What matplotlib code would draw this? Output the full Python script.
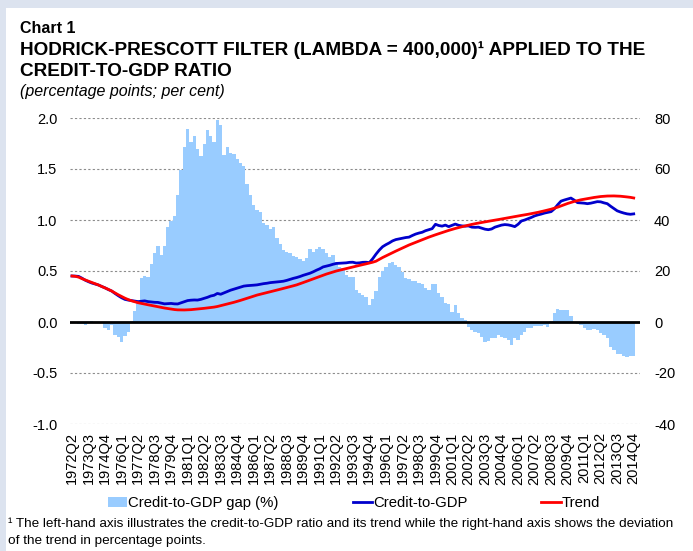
import matplotlib.pyplot as plt
from matplotlib.patches import Rectangle, Patch
from matplotlib.lines import Line2D

plt.rcParams['font.family'] = ['Liberation Sans', 'DejaVu Sans']

# quarters 1972Q2 .. 2014Q4
quarters = []
for yr in range(1972, 2015):
    for q in range(1, 5):
        if yr == 1972 and q < 2:
            continue
        quarters.append("%dQ%d" % (yr, q))

# credit-to-GDP gap, percentage points (right axis)
gap = [
    -0.5, -0.5, -0.7, -0.8, -1.0, -0.5, 0.5, -0.3, 0.0, -0.5,
    -2.5, -3.0, -1.0, -5.0, -6.0, -7.7, -5.5, -4.0, 0.5, 4.5,
    8.0, 17.4, 18.2, 17.5, 22.7, 27.2, 29.8, 26.3, 29.8, 37.4,
    39.6, 41.6, 50.0, 59.6, 68.5, 75.6, 70.5, 73.0, 67.7, 65.0,
    70.0, 75.3, 73.0, 70.7, 79.2, 77.3, 65.5, 68.5, 66.1, 65.7,
    63.8, 62.2, 61.2, 54.1, 49.8, 45.9, 43.9, 43.3, 38.9, 38.0,
    36.3, 37.3, 32.8, 30.5, 28.2, 27.6, 27.0, 25.9, 25.3, 24.6,
    24.1, 25.0, 28.5, 27.6, 28.5, 29.5, 28.5, 27.0, 25.6, 26.3,
    23.7, 21.7, 21.0, 18.4, 17.8, 17.5, 12.5, 11.5, 10.6, 10.0,
    6.5, 9.0, 12.0, 17.5, 20.0, 21.5, 23.0, 23.5, 22.5, 21.5,
    19.7, 17.1, 16.7, 16.2, 16.0, 15.4, 15.0, 13.2, 12.5, 15.0,
    15.0, 11.3, 9.8, 7.3, 7.0, 4.0, 6.5, 3.4, 1.4, 0.8,
    -1.8, -3.1, -3.8, -4.4, -5.7, -7.7, -7.5, -6.4, -6.4, -5.1,
    -6.0, -6.4, -7.0, -9.0, -6.4, -7.0, -5.1, -3.8, -2.5, -2.3,
    -1.6, -1.6, -1.6, -1.2, -2.1, 0.5, 3.4, 5.0, 4.7, 4.6,
    4.6, 2.4, 0.1, -0.8, -1.2, -2.5, -3.1, -3.1, -2.9, -3.1,
    -4.2, -5.1, -6.4, -9.7, -11.0, -12.4, -12.7, -13.3, -13.6, -13.3,
    -13.3,
]

# credit-to-GDP ratio (left axis)
credit = [
    0.451, 0.450, 0.447, 0.430, 0.410, 0.395, 0.382, 0.372, 0.363, 0.348,
    0.335, 0.318, 0.304, 0.280, 0.258, 0.238, 0.222, 0.215, 0.210, 0.205,
    0.200, 0.204, 0.207, 0.200, 0.196, 0.193, 0.192, 0.185, 0.178, 0.180,
    0.182, 0.178, 0.177, 0.188, 0.200, 0.210, 0.214, 0.216, 0.215, 0.222,
    0.232, 0.242, 0.255, 0.262, 0.280, 0.272, 0.285, 0.298, 0.312, 0.322,
    0.332, 0.342, 0.352, 0.356, 0.358, 0.361, 0.364, 0.370, 0.376, 0.380,
    0.386, 0.389, 0.393, 0.396, 0.400, 0.408, 0.418, 0.428, 0.436, 0.446,
    0.458, 0.468, 0.478, 0.492, 0.508, 0.522, 0.540, 0.548, 0.556, 0.566,
    0.574, 0.576, 0.578, 0.580, 0.585, 0.586, 0.578, 0.580, 0.585, 0.586,
    0.582, 0.620, 0.665, 0.705, 0.738, 0.758, 0.775, 0.795, 0.808, 0.815,
    0.822, 0.828, 0.832, 0.848, 0.862, 0.872, 0.880, 0.895, 0.905, 0.915,
    0.958, 0.946, 0.940, 0.950, 0.935, 0.948, 0.960, 0.948, 0.942, 0.940,
    0.942, 0.930, 0.928, 0.930, 0.920, 0.910, 0.905, 0.912, 0.930, 0.940,
    0.950, 0.955, 0.952, 0.945, 0.935, 0.958, 0.990, 1.000, 1.012, 1.025,
    1.040, 1.050, 1.058, 1.068, 1.075, 1.082, 1.110, 1.150, 1.185, 1.196,
    1.205, 1.215, 1.195, 1.170, 1.168, 1.165, 1.160, 1.165, 1.172, 1.180,
    1.178, 1.168, 1.160, 1.135, 1.112, 1.090, 1.078, 1.068, 1.060, 1.056,
    1.060,
]

# HP trend (left axis)
trend = [
    0.451, 0.448, 0.440, 0.425, 0.412, 0.400, 0.388, 0.376, 0.363, 0.348,
    0.334, 0.320, 0.304, 0.285, 0.267, 0.250, 0.234, 0.220, 0.208, 0.198,
    0.189, 0.182, 0.175, 0.169, 0.163, 0.156, 0.150, 0.143, 0.137, 0.132,
    0.127, 0.122, 0.119, 0.118, 0.118, 0.119, 0.121, 0.124, 0.127, 0.130,
    0.134, 0.138, 0.142, 0.146, 0.152, 0.160, 0.168, 0.176, 0.184, 0.193,
    0.202, 0.212, 0.222, 0.233, 0.243, 0.254, 0.264, 0.272, 0.281, 0.289,
    0.297, 0.305, 0.313, 0.321, 0.330, 0.338, 0.346, 0.355, 0.364, 0.375,
    0.387, 0.399, 0.411, 0.423, 0.436, 0.448, 0.460, 0.470, 0.480, 0.490,
    0.500, 0.508, 0.516, 0.524, 0.532, 0.540, 0.548, 0.555, 0.562, 0.570,
    0.578, 0.586, 0.596, 0.614, 0.632, 0.648, 0.664, 0.680, 0.695, 0.710,
    0.725, 0.740, 0.755, 0.768, 0.782, 0.795, 0.808, 0.820, 0.832, 0.844,
    0.855, 0.866, 0.877, 0.888, 0.898, 0.908, 0.917, 0.926, 0.934, 0.942,
    0.950, 0.957, 0.964, 0.970, 0.976, 0.982, 0.988, 0.993, 0.998, 1.004,
    1.010, 1.016, 1.022, 1.028, 1.033, 1.039, 1.045, 1.050, 1.056, 1.062,
    1.068, 1.075, 1.082, 1.090, 1.098, 1.106, 1.116, 1.126, 1.138, 1.150,
    1.162, 1.172, 1.182, 1.190, 1.198, 1.204, 1.210, 1.216, 1.221, 1.226,
    1.230, 1.233, 1.235, 1.236, 1.236, 1.235, 1.233, 1.230, 1.226, 1.222,
    1.216,
]

left_ticks = [-1.0, -0.5, 0.0, 0.5, 1.0, 1.5, 2.0]
right_ticks = [-40, -20, 0, 20, 40, 60, 80]

W, H = 693, 551
fig = plt.figure(figsize=(W / 100, H / 100), dpi=100)
fig.patch.set_facecolor('#dce3ef')
fig.patches.append(Rectangle((6 / W, 0), 1, 1 - 8 / H, transform=fig.transFigure,
                             facecolor='white', edgecolor='none', zorder=-5))

fig.text(20 / W, 1 - 33 / H, "Chart 1", fontsize=11.5, fontweight='bold')
fig.text(20 / W, 1 - 55 / H, "HODRICK-PRESCOTT FILTER (LAMBDA = 400,000)\u00b9 APPLIED TO THE",
         fontsize=13.7, fontweight='bold')
fig.text(20 / W, 1 - 76 / H, "CREDIT-TO-GDP RATIO", fontsize=13.7, fontweight='bold')
fig.text(20 / W, 1 - 96 / H, "(percentage points; per cent)", fontsize=11.5, style='italic')

x = list(range(len(quarters)))

# bars on primary axes (right-hand scale), lines on the twin (left-hand scale)
ax = fig.add_axes([70 / W, 1 - 424 / H, 570 / W, 306 / H])
ax2 = ax.twinx()
ax.set_zorder(2)
ax.patch.set_visible(False)
ax2.set_zorder(3)
ax2.patch.set_visible(False)

ax.bar(x, gap, width=1.0, color='#99ccff', edgecolor='none', zorder=2)
ax.set_ylim(-40, 80)
ax.set_yticks(right_ticks)
ax.yaxis.tick_right()
ax.set_yticklabels([str(t) for t in right_ticks])
ax.grid(axis='y', color='#8c8c8c', linestyle=(0, (2, 2)), linewidth=0.8, zorder=1)
ax.axhline(0, color='black', linewidth=2.0, zorder=3)
ax.set_xlim(-0.6, 171.9)
ax.set_xticks(x[::5])
ax.set_xticklabels(quarters[::5], rotation=90, fontsize=10.5)
ax.tick_params(axis='both', length=0, labelsize=10.5)
ax.tick_params(axis='y', pad=10)
ax.tick_params(axis='x', pad=6)
for s in ax.spines.values():
    s.set_visible(False)

ax2.plot(x, credit, color='#0000cc', linewidth=2.0, zorder=3)
ax2.plot(x, trend, color='#ff0000', linewidth=2.0, zorder=4)
ax2.set_ylim(-1.0, 2.0)
ax2.set_yticks(left_ticks)
ax2.yaxis.tick_left()
ax2.set_yticklabels(["%.1f" % t for t in left_ticks])
ax2.tick_params(axis='y', length=0, labelsize=10.5, pad=9)
for s in ax2.spines.values():
    s.set_visible(False)

handles = [Patch(facecolor='#99ccff', edgecolor='none'),
           Line2D([], [], color='#0000cc', linewidth=2.0),
           Line2D([], [], color='#ff0000', linewidth=2.0)]
fig.legend(handles, ["Credit-to-GDP gap (%)", "Credit-to-GDP", "Trend"],
           loc='center left', bbox_to_anchor=(108 / W, 1 - 503 / H), ncol=3,
           frameon=False, fontsize=10.7, handlelength=1.3, handletextpad=0.05,
           columnspacing=5.0, borderaxespad=0, borderpad=0)

fig.text(8 / W, 1 - 527 / H,
         "\u00b9 The left-hand axis illustrates the credit-to-GDP ratio and its trend while the right-hand axis shows the deviation",
         fontsize=9.7)
fig.text(8 / W, 1 - 544 / H, "of the trend in percentage points.", fontsize=9.7)

fig.savefig("out.png", dpi=100, facecolor=fig.get_facecolor())
